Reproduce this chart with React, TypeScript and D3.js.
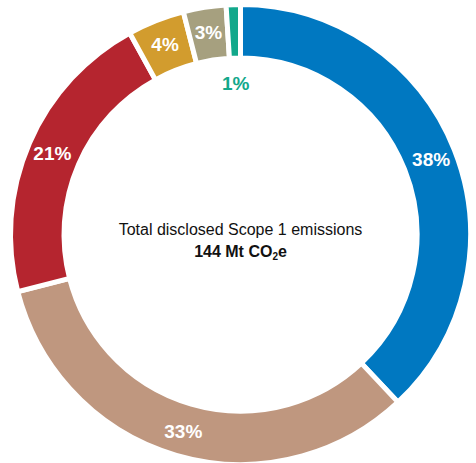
import React from "react";
import * as d3 from "d3";

const categories = ["A", "B", "C", "D", "E", "F"];
const values = [38, 33, 21, 4, 3, 1];
const labels = ["38%", "33%", "21%", "4%", "3%", "1%"];
const colors = ["#0078c1", "#bf977f", "#b5252f", "#d29c2e", "#a6a07f", "#12a88b"];

const W = 476;
const H = 463;

export default function App() {
  const cx = 240.5;
  const cy = 234.5;
  const gap = 5;
  const visOuter = 227.5;
  const visInner = 179;
  const pie = d3.pie<number>().sort(null).value((d) => d)(values);
  const arc = d3
    .arc<d3.PieArcDatum<number>>()
    .innerRadius(visInner - gap / 2)
    .outerRadius(visOuter + gap / 2);
  const font = "'Liberation Sans', Arial, Helvetica, sans-serif";
  const fs = 19;
  return (
    <div style={{ position: "absolute", left: 0, top: 0 }}>
      <svg width={W} height={H} style={{ display: "block", background: "#fff" }}>
        <g transform={`translate(${cx},${cy})`}>
          {pie.map((p, i) => (
            <path key={categories[i]} d={arc(p) || ""} fill={colors[i]} stroke="#fff" strokeWidth={gap} />
          ))}
          {pie.map((p, i) => {
            const mid = (p.startAngle + p.endAngle) / 2;
            const small = values[i] < 2;
            const r = small ? 151 : 205;
            const x = r * Math.sin(mid);
            const y = -r * Math.cos(mid);
            return (
              <text
                key={"l" + i}
                x={x}
                y={y + fs * 0.36}
                textAnchor="middle"
                fill={small ? colors[i] : "#fff"}
                fontFamily={font}
                fontWeight="bold"
                fontSize={fs}
              >
                {labels[i]}
              </text>
            );
          })}
          <text x={0} y={0.5} textAnchor="middle" fontFamily={font} fontSize={16} fill="#111">
            Total disclosed Scope 1 emissions
          </text>
          <text x={0} y={22} textAnchor="middle" fontFamily={font} fontSize={16} fontWeight="bold" fill="#111">
            144 Mt CO<tspan fontSize={10} dy={3}>2</tspan><tspan dy={-3}>e</tspan>
          </text>
        </g>
      </svg>
    </div>
  );
}
